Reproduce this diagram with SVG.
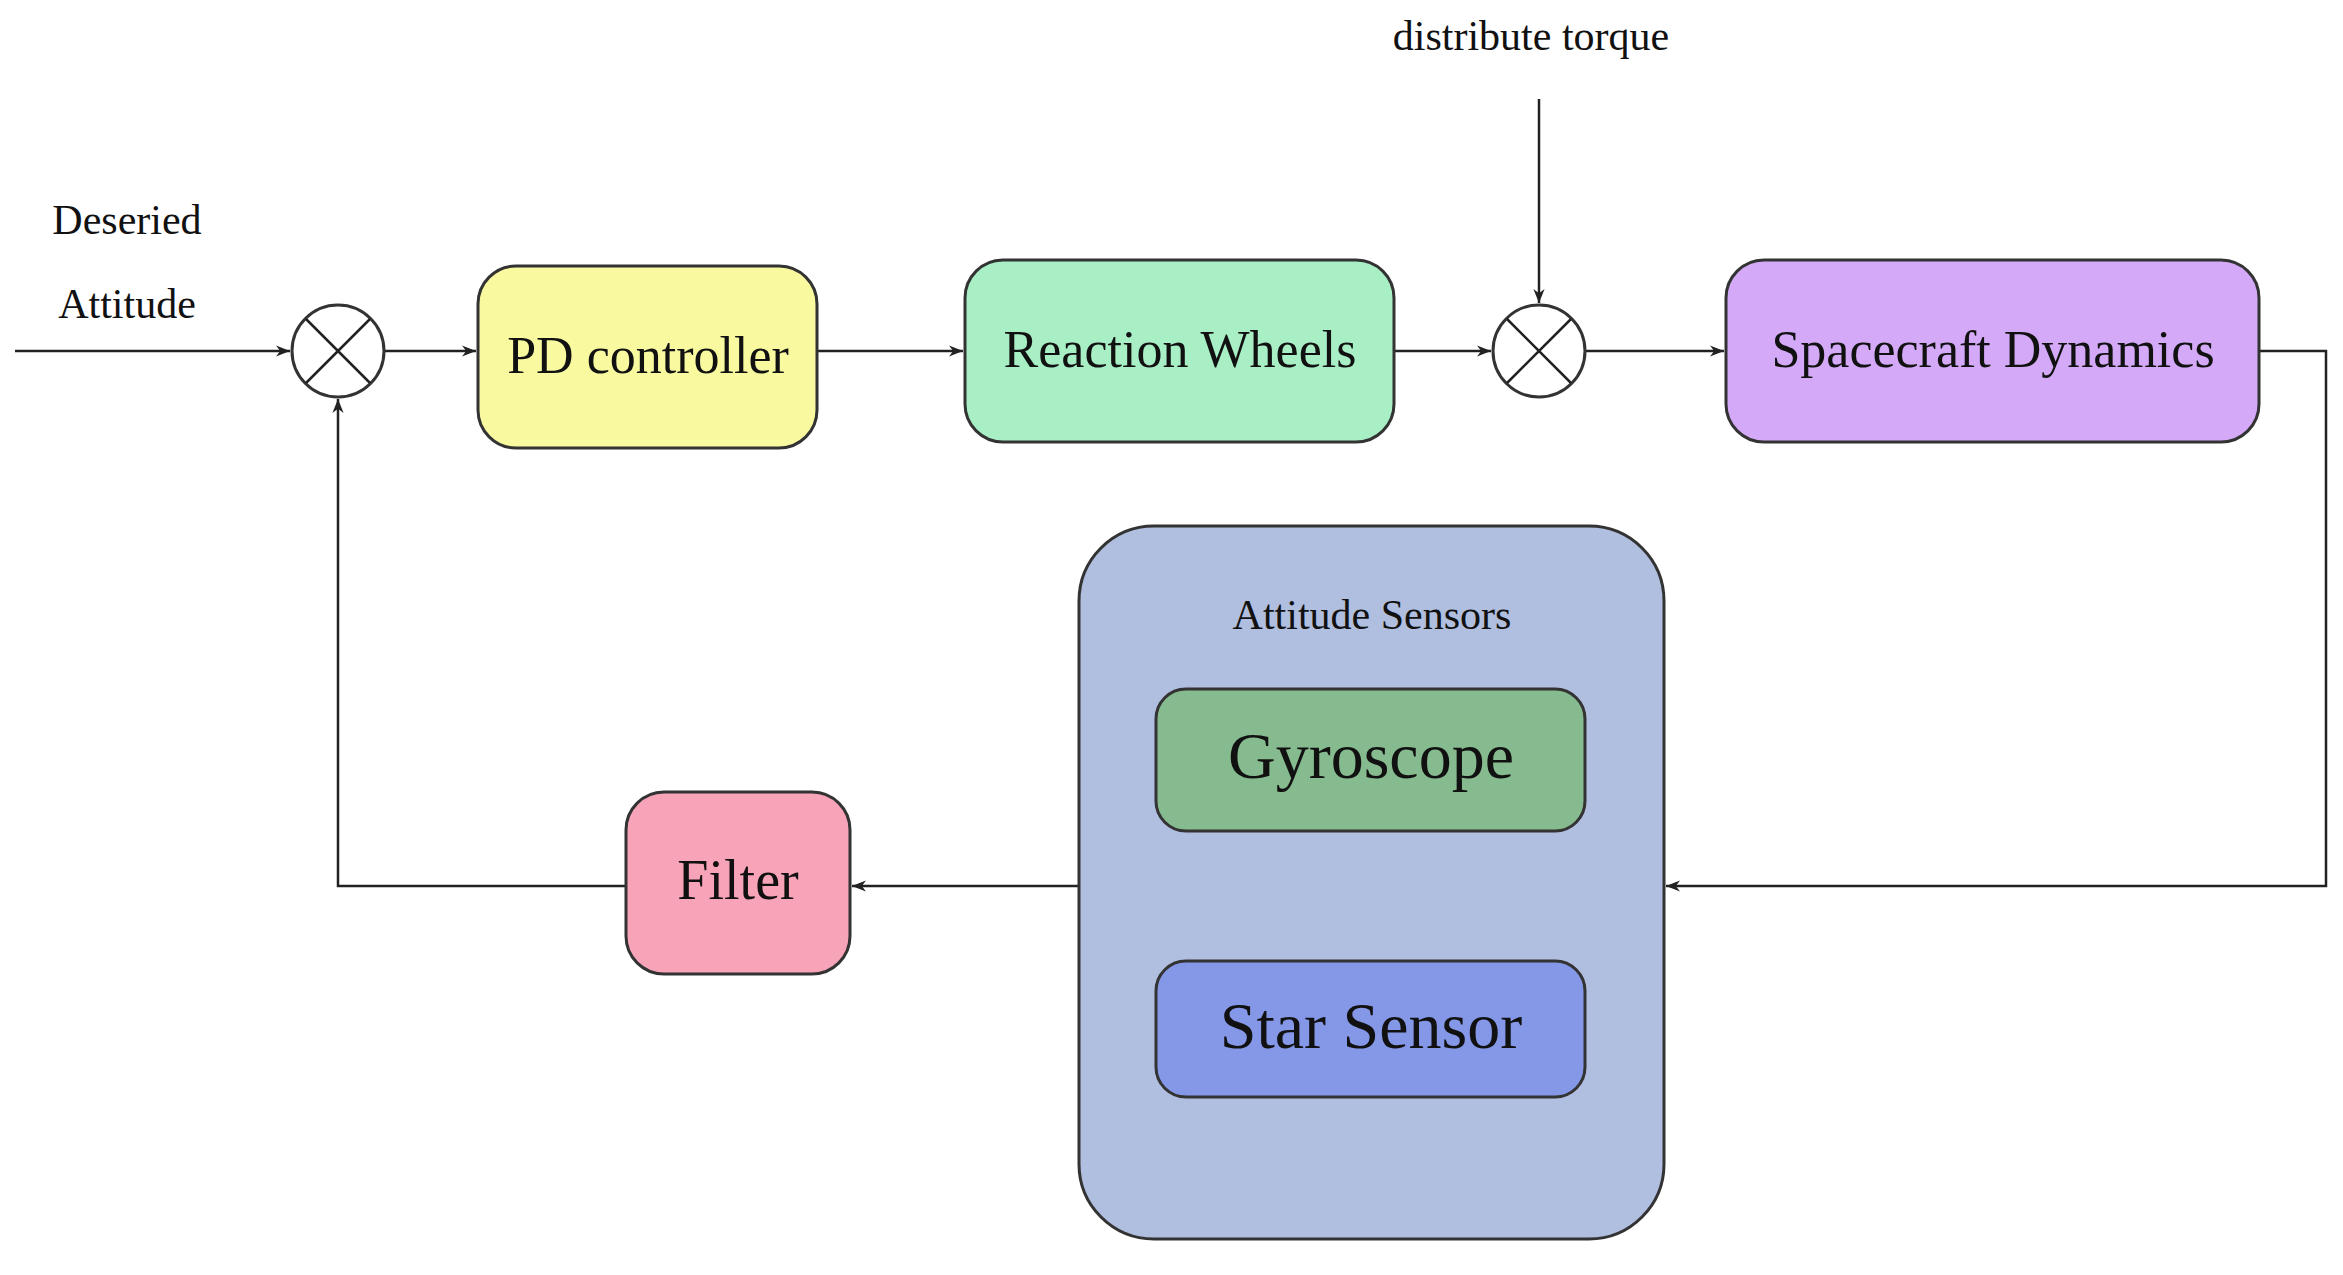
<svg xmlns="http://www.w3.org/2000/svg" width="2343" height="1275" viewBox="0 0 2343 1275">
<defs>
<marker id="ah" viewBox="0 0 10 10" refX="10" refY="5" markerWidth="14" markerHeight="14" markerUnits="userSpaceOnUse" orient="auto"><path d="M0,1 L10,5 L0,9 L3,5 z" fill="#222"/></marker>
</defs>
<style>
text{font-family:"Liberation Serif","Times New Roman",serif;fill:#111;text-anchor:middle}
.b{stroke:#333;stroke-width:3}
.l{stroke:#222;stroke-width:2.5;fill:none}
</style>
<rect width="2343" height="1275" fill="#fff"/>
<text x="127" y="234" font-size="42">Deseried</text>
<text x="127" y="318" font-size="42">Attitude</text>
<text x="1531" y="50" font-size="42">distribute torque</text>
<g id="connectors">
<path class="l" d="M15,351 H290" marker-end="url(#ah)"/>
<path class="l" d="M384,351 H476" marker-end="url(#ah)"/>
<path class="l" d="M817,351 H963" marker-end="url(#ah)"/>
<path class="l" d="M1394,351 H1491" marker-end="url(#ah)"/>
<path class="l" d="M1539,99 V303" marker-end="url(#ah)"/>
<path class="l" d="M1585,351 H1724" marker-end="url(#ah)"/>
<path class="l" d="M2259,351 H2326 V886 H1666" marker-end="url(#ah)"/>
<path class="l" d="M1079,886 H852" marker-end="url(#ah)"/>
<path class="l" d="M626,886 H338 V399" marker-end="url(#ah)"/>
</g>
<g id="sum1"><circle cx="338" cy="351" r="46" fill="#fff" class="b" stroke-width="2.5"/><path class="l" d="M306,319 L370,383 M370,319 L306,383"/></g>
<g id="sum2"><circle cx="1539" cy="351" r="46" fill="#fff" class="b" stroke-width="2.5"/><path class="l" d="M1507,319 L1571,383 M1571,319 L1507,383"/></g>
<g id="pd"><rect x="478" y="266" width="339" height="182" rx="38" fill="#f9f9a0" class="b"/><text x="648" y="373" font-size="52">PD controller</text></g>
<g id="rw"><rect x="965" y="260" width="429" height="182" rx="38" fill="#a8efc6" class="b"/><text x="1180" y="367" font-size="52">Reaction Wheels</text></g>
<g id="sd"><rect x="1726" y="260" width="533" height="182" rx="38" fill="#d4aaf8" class="b"/><text x="1993" y="367" font-size="52">Spacecraft Dynamics</text></g>
<g id="sensors"><rect x="1079" y="526" width="585" height="713" rx="75" fill="#b0bedf" class="b"/><text x="1372" y="629" font-size="42">Attitude Sensors</text></g>
<g id="gyro"><rect x="1156" y="689" width="429" height="142" rx="30" fill="#86bb8f" class="b"/><text x="1371" y="778" font-size="66">Gyroscope</text></g>
<g id="star"><rect x="1156" y="961" width="429" height="136" rx="30" fill="#8598e8" class="b"/><text x="1371" y="1048" font-size="66">Star Sensor</text></g>
<g id="filter"><rect x="626" y="792" width="224" height="182" rx="38" fill="#f7a3b8" class="b"/><text x="738" y="899" font-size="56">Filter</text></g>
</svg>
